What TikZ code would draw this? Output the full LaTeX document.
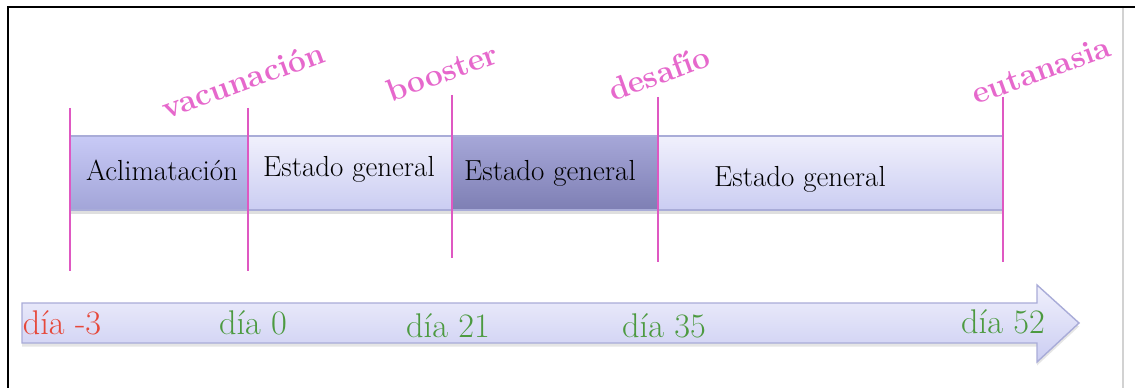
\documentclass[tikz,border=0pt]{standalone}
\usepackage{tikz}
\usetikzlibrary{shadows}
\definecolor{pinkmark}{HTML}{DF58C2}
\definecolor{pinktext}{HTML}{E668CC}
\definecolor{redday}{HTML}{E6483A}
\definecolor{greenday}{HTML}{4C9A40}
\definecolor{barline}{HTML}{A9ACD8}
\definecolor{midtop}{HTML}{C8CAF6}
\definecolor{midbot}{HTML}{A2A5D8}
\definecolor{lighttop}{HTML}{F0F0FC}
\definecolor{lightbot}{HTML}{CBCDF2}
\definecolor{darktop}{HTML}{A6A7D8}
\definecolor{darkbot}{HTML}{7E7FB4}

\begin{document}
\begin{tikzpicture}[x=0.02cm,y=-0.02cm]
		\tikzset{
			pinkline/.style={pinkmark,line width=1.6pt},
			stage/.style={font=\fontsize{16.5}{19}\selectfont,text=black,inner sep=0pt},
			event/.style={pinktext,font=\fontsize{18}{21}\selectfont\bfseries,rotate=20,inner sep=0pt},
			daylbl/.style={font=\fontsize{19.5}{22}\selectfont,inner sep=0pt},
			segment/.style={draw=barline,line width=0.6pt,drop shadow={opacity=0.25,shadow xshift=0pt,shadow yshift=-2pt}}
		}
		\useasboundingbox (0,0) rectangle (1135,388);
		\fill[white] (0,0) rectangle (1135,388);
		\draw[gray!35,line width=1pt] (1123,7) -- (1123,388);
		\draw[black,line width=1.6pt] (8,388) -- (8,7) -- (1135,7);

		% time arrow
		\shade[top color=lighttop,bottom color=lightbot,draw=barline,line width=0.8pt,
			drop shadow={opacity=0.2,shadow xshift=0pt,shadow yshift=-2pt}]
			(22,303) -- (1037,303) -- (1037,285) -- (1079,323) -- (1037,362)
			-- (1037,343) -- (22,343) -- cycle;

		% stages
		\shade[segment,top color=midtop,bottom color=midbot] (70,136) rectangle (248,210);
		\shade[segment,top color=lighttop,bottom color=lightbot] (248,136) rectangle (452,210);
		\shade[segment,top color=darktop,bottom color=darkbot] (452,136) rectangle (658,210);
		\shade[segment,top color=lighttop,bottom color=lightbot] (658,136) rectangle (1003,210);

		\node[stage] (aclim) at (162,170) {Aclimatación};
		\node[stage] (est1) at (349,169) {Estado general};
		\node[stage] (est2) at (550,173) {Estado general};
		\node[stage] (est3) at (800,179) {Estado general};

		% event marks
		\foreach \x/\t/\b in {70/108/271, 248/108/271, 452/95/258, 658/97/262, 1003/97/262}
			\draw[pinkline] (\x,\t) -- (\x,\b);

		\node[event] (vac) at (243,80) {vacunación};
		\node[event] (boost) at (442,72) {booster};
		\node[event] (desaf) at (659,73) {desafío};
		\node[event] (euta) at (1041,70) {eutanasia};

		% days
		\node[daylbl,text=redday] (dm3) at (62,323) {día -3};
		\node[daylbl,text=greenday] (d0) at (253,323) {día 0};
		\node[daylbl,text=greenday] (d21) at (448,326) {día 21};
		\node[daylbl,text=greenday] (d35) at (664,326) {día 35};
		\node[daylbl,text=greenday] (d52) at (1003,322) {día 52};
\end{tikzpicture}
\end{document}
